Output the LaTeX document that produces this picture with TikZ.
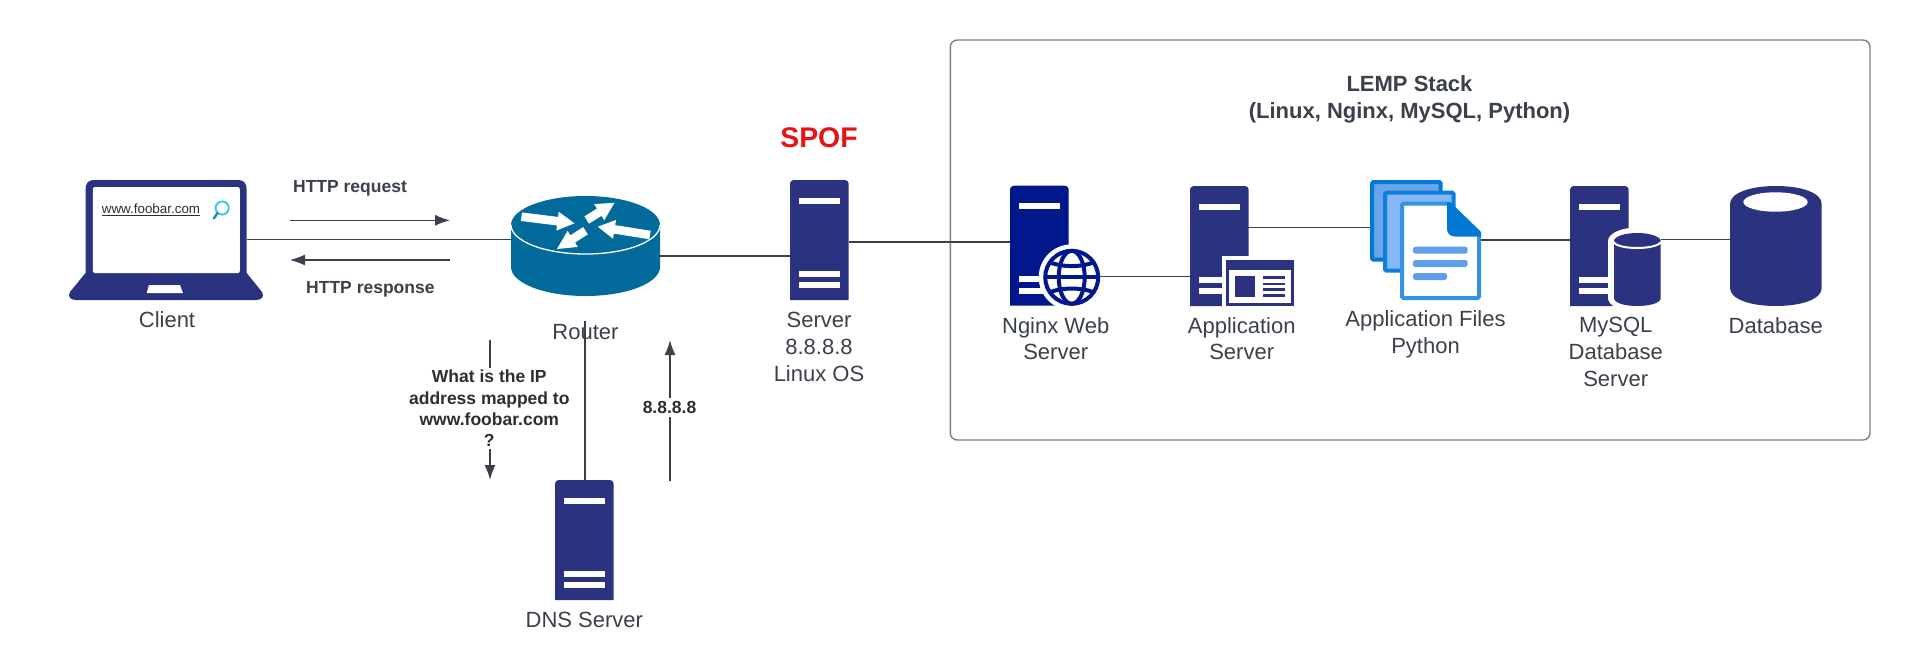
\documentclass[tikz,border=0pt]{standalone}
\usepackage{fontspec}
\setmainfont{Liberation Sans}
\usetikzlibrary{arrows.meta,calc}
\definecolor{ink}{HTML}{3A414A}
\definecolor{darkink}{HTML}{2B2E33}
\definecolor{srvblue}{HTML}{2B3380}
\definecolor{ngxblue}{HTML}{00188C}
\definecolor{routerblue}{HTML}{036A9C}
\definecolor{boxgrey}{HTML}{7A7F87}
\definecolor{docedge}{HTML}{0F7FDC}
\definecolor{docback}{HTML}{6AA5EA}
\definecolor{docmid}{HTML}{86B8F5}
\definecolor{docfold}{HTML}{0078D4}
\definecolor{docline}{HTML}{5F9FEC}
\definecolor{spofred}{HTML}{E81313}
\definecolor{lenscyan}{HTML}{2CC5F0}
\definecolor{lenshandle}{HTML}{1F8EC0}
\tikzset{
  lbl/.style={text=ink,font=\fontsize{22}{26.7}\selectfont,align=center,inner sep=0pt},
  blbl/.style={text=ink,font=\fontsize{17.5}{21.5}\selectfont\bfseries,align=center,inner sep=0pt},
  conn/.style={draw=ink,line width=1.1pt},
  flow/.style={draw=ink,line width=1.5pt,-{Latex[length=15pt,width=11pt]}},
}
\newcommand\srvicon[3]{%
  \begin{scope}[shift={(#1,#2)}]
    \fill[#3] (0,120) -- (0,5) .. controls (0,1.5) and (1.5,0) .. (5,0) -- (53.7,0)
      .. controls (57.2,0) and (58.7,1.5) .. (58.7,5) -- (58.7,120) -- cycle;
    \fill[white] (9,17.7) rectangle (50,23.5);
    \fill[white] (9,90.7) rectangle (50,96.7);
    \fill[white] (9,102.3) rectangle (50,108);
  \end{scope}}
% tail x, tail y, tip x, tip y, fraction of the length at which the head starts
\newcommand\rarrow[5]{%
  \coordinate (ra) at (#1,#2);\coordinate (rb) at (#3,#4);
  \coordinate (rh) at ($(ra)!#5!(rb)$);
  \fill[white] ($(ra)!4.3pt!90:(rb)$) -- ($(rh)!4.3pt!90:(rb)$) -- ($(rh)!9.5pt!90:(rb)$) -- (rb)
    -- ($(rh)!9.5pt!-90:(rb)$) -- ($(rh)!4.3pt!-90:(rb)$) -- ($(ra)!4.3pt!-90:(rb)$) -- cycle;}
\begin{document}
\begin{tikzpicture}[x=1pt,y=-1pt]
\useasboundingbox (0,0) rectangle (1910,670);
\fill[white] (0,0) rectangle (1910,670);

% LEMP box
\draw[boxgrey,line width=1.4pt,rounded corners=7pt] (950.3,40) rectangle (1870,440);
\node[blbl,font=\fontsize{22}{26.7}\selectfont\bfseries] (lemp) at (1409.5,99.5) {LEMP Stack\\(Linux, Nginx, MySQL, Python)};

% Named connection points
\coordinate (clientE) at (246.7,239.7);
\coordinate (routerW) at (511,239.7);
\coordinate (routerE) at (660,256);
\coordinate (routerS) at (585,321);
\coordinate (serverW) at (790,256);
\coordinate (serverE) at (848.7,242);
\coordinate (nginxW) at (1010,242);
\coordinate (nginxE) at (1100,276.7);
\coordinate (appW) at (1190,276.7);
\coordinate (appE) at (1248,227.3);
\coordinate (docsW) at (1370,227.3);
\coordinate (docsE) at (1481,240);
\coordinate (mysqlW) at (1570,240);
\coordinate (mysqlE) at (1660.7,239.3);
\coordinate (dbW) at (1730,239.3);
\coordinate (dnsN) at (585,480);

% Laptop
\fill[srvblue] (85.5,273) -- (85.5,190) .. controls (85.5,183) and (88,180) .. (95,180) -- (237,180)
  .. controls (244,180) and (246.7,183) .. (246.7,190) -- (246.7,273)
  -- (262,292) .. controls (265,297) and (261,300) .. (256,300) -- (76,300)
  .. controls (71,300) and (67,297) .. (70,292) -- cycle;
\fill[white,rounded corners=2pt] (92.9,273) -- (92.9,187) -- (239.8,187) -- (239.8,273) -- cycle;
\fill[white] (149,285) -- (180,285) -- (183,293) -- (146.7,293) -- cycle;
\node[text=darkink,font=\fontsize{13.4}{16}\selectfont,inner sep=0pt,anchor=base] (url) at (151,213.5) {\underline{www.foobar.com}};
\draw[lenscyan,line width=1.8pt] (222.2,208) circle (6.6);
\draw[lenshandle,line width=2.4pt,line cap=round] (217.5,213) -- (213.8,218.5);
\node[lbl] (client) at (167,320) {Client};

% HTTP labels and arrows
\node[blbl] (req) at (350,188) {HTTP request};
\node[blbl] (resp) at (370.4,289) {HTTP response};
\coordinate (reqA) at (290,220.3);\coordinate (reqB) at (450,220.3);
\coordinate (respA) at (450,260);\coordinate (respB) at (290,260);
\draw[flow,line width=1.2pt] (reqA) -- (reqB);
\draw[flow,line width=1.2pt] (respA) -- (respB);

% Router
\fill[routerblue] (511,225) -- (511,267) arc[start angle=180,end angle=360,x radius=74.5,y radius=-29]
  -- (660,225) arc[start angle=0,end angle=180,x radius=74.5,y radius=-29] -- cycle;
\draw[white,line width=1.3pt] (511,225) arc[start angle=180,end angle=360,x radius=74.5,y radius=-29];
\rarrow{521.4}{216.7}{574.5}{223.3}{0.68}
\rarrow{586.7}{220}{614.5}{202.7}{0.45}
\rarrow{650}{235}{597.8}{226.7}{0.68}
\rarrow{585.5}{230.7}{557}{249}{0.45}
\node[lbl] (router) at (585.5,331.7) {Router};

% Query arrows
\coordinate (qA) at (490,340);\coordinate (qB) at (490,480);
\draw[flow] (qA) -- (qB);
\node[blbl,text=darkink,fill=white,inner ysep=2pt,font=\fontsize{17.5}{21.3}\selectfont\bfseries] (query) at (489.3,408.5) {What is the IP\\address mapped to\\www.foobar.com\\?};
\coordinate (ansA) at (670,480.7);\coordinate (ansB) at (670,340);
\draw[flow] (ansA) -- (ansB);
\node[blbl,text=darkink,fill=white,inner ysep=3pt] (ans) at (669.5,407.5) {8.8.8.8};

% DNS server
\srvicon{555}{480}{srvblue}
\node[lbl] (dns) at (584.3,620) {DNS Server};

% Main server
\srvicon{790}{180}{srvblue}
\node[blbl,text=spofred,font=\fontsize{28.4}{32}\selectfont\bfseries] (spof) at (819,137.5) {SPOF};
\node[lbl] (server) at (819,347) {Server\\8.8.8.8\\Linux OS};

% Nginx web server
\srvicon{1010}{185.7}{ngxblue}
\fill[white] (1071.7,277.3) circle (33);
\begin{scope}[shift={(1071.7,277.3)},ngxblue,line width=4pt]
  \draw (0,0) circle (26.5);
  \draw (0,0) ellipse (13 and 26.5);
  \draw (-26,0) -- (26,0);
  \draw (-22,-15) .. controls (-10,-10) and (10,-10) .. (22,-15);
  \draw (-22,15) .. controls (-10,10) and (10,10) .. (22,15);
\end{scope}
\node[lbl] (nginx) at (1055.7,338.5) {Nginx Web\\Server};

% Application server
\srvicon{1190}{186}{srvblue}
\fill[white] (1222,256) rectangle (1298,310);
\fill[srvblue] (1226,260) rectangle (1294,306);
\fill[white] (1229.3,270) rectangle (1290.7,302.7);
\fill[srvblue] (1235,276) rectangle (1255,296.7);
\fill[srvblue] (1263.3,276) rectangle (1285,279);
\fill[srvblue] (1263.3,282.7) rectangle (1285,285.3);
\fill[srvblue] (1263.3,288.3) rectangle (1285,291);
\fill[srvblue] (1263.3,294) rectangle (1285,296.7);
\node[lbl] (app) at (1241.7,338.5) {Application\\Server};

% Application files
\draw[docfold,fill=docback,line width=4pt,rounded corners=1.5pt] (1372,182) rectangle (1440.7,259.7);
\draw[docedge,fill=docmid,line width=4pt,rounded corners=1.5pt] (1385,192.7) rectangle (1453.7,270.7);
\draw[docedge!85!white,fill=white,line width=4pt,rounded corners=1.5pt] (1402,203.7) -- (1449,203.7) -- (1479,233) -- (1479,298) -- (1402,298) -- cycle;
\fill[docfold] (1447,202) -- (1450,202) -- (1481,232) -- (1481,236.5) -- (1455,236.5) .. controls (1450,236.5) and (1447,233) .. (1447,229) -- cycle;
\fill[docline,rounded corners=2.5pt] (1413,246.7) rectangle (1467.7,253.7);
\fill[docline,rounded corners=2.5pt] (1413,260) rectangle (1467.7,267);
\fill[docline,rounded corners=2.5pt] (1413,273) rectangle (1447,280);
\node[lbl] (files) at (1425.5,334) {Application Files\\Python};

% MySQL server
\srvicon{1570}{186}{srvblue}
\fill[white] (1637.3,241) ellipse (29.3 and 13.5);
\fill[white] (1608,241) rectangle (1666.6,300);
\fill[white] (1637.3,298) ellipse (29.3 and 14);
\fill[srvblue] (1614,241) -- (1614,298) .. controls (1614,303) and (1625,306) .. (1637.3,306)
  .. controls (1650,306) and (1660.7,303) .. (1660.7,298) -- (1660.7,241) -- cycle;
\fill[srvblue] (1637.3,241) ellipse (23.3 and 8);
\draw[white,line width=2pt] (1613.5,242) .. controls (1618,250) and (1656,250) .. (1661,242);
\node[lbl] (mysql) at (1615.7,352) {MySQL\\Database\\Server};

% Database
\fill[srvblue] (1730,204) .. controls (1730,193) and (1750,186) .. (1775.8,186)
  .. controls (1802,186) and (1821.7,193) .. (1821.7,204) -- (1821.7,288)
  .. controls (1821.7,299) and (1802,306) .. (1775.8,306)
  .. controls (1750,306) and (1730,299) .. (1730,288) -- cycle;
\fill[white] (1775.5,202) ellipse (32.2 and 9.7);
\node[lbl] (db) at (1775.7,326) {Database};

% Connectors
\draw[conn] (clientE) -- (routerW);
\draw[conn] (routerE) -- (serverW);
\draw[conn] (serverE) -- (nginxW);
\draw[conn] (nginxE) -- (appW);
\draw[conn] (appE) -- (docsW);
\draw[conn] (docsE) -- (mysqlW);
\draw[conn] (mysqlE) -- (dbW);
\draw[conn] (routerS) -- (dnsN);
\end{tikzpicture}
\end{document}
